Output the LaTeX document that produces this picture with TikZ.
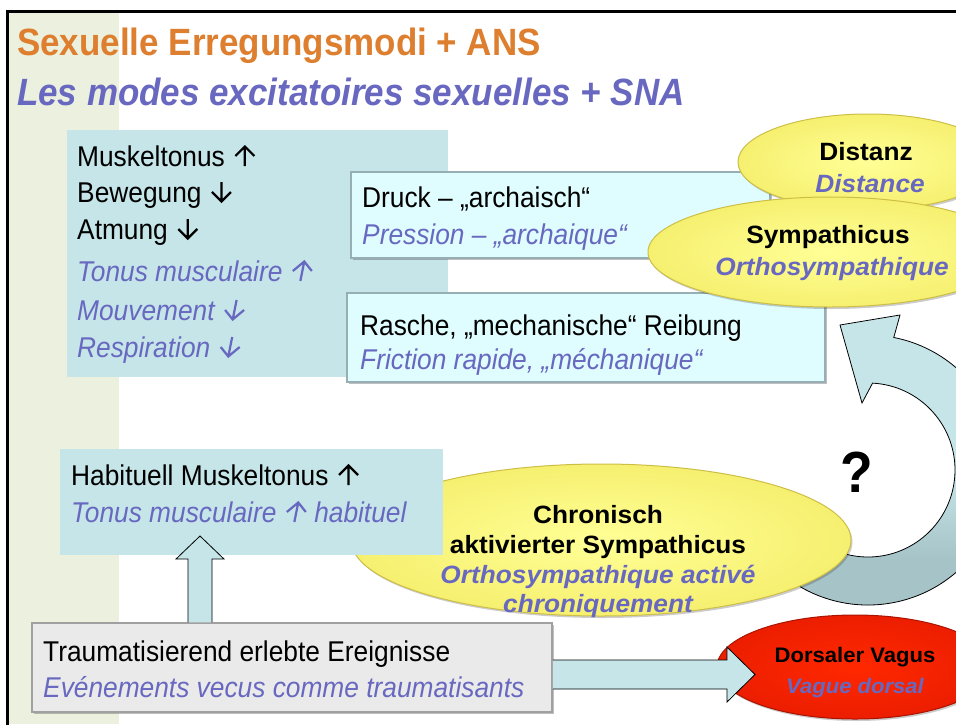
\documentclass[tikz,border=0pt]{standalone}
\usepackage{fontspec}
\setmainfont{Liberation Sans}[FakeStretch=0.92]
\newfontfamily\efont{Liberation Sans}[FakeStretch=1.05]
\newcommand\uparr[1][0]{\hspace{2pt}\tikz[baseline=0pt,x=1pt,y=1pt,xslant=#1]{\draw[draw=.,line width=2.2pt,line join=miter,line cap=butt] (0,0)--(0,19.5) (-9.5,10)--(0,19.5)--(9.5,10);}}
\newcommand\dnarr[1][0]{\hspace{2pt}\tikz[baseline=0pt,x=1pt,y=1pt,xslant=#1]{\draw[draw=.,line width=2.2pt,line join=miter,line cap=butt] (0,20)--(0,0.5) (-9.5,10)--(0,0.5)--(9.5,10);}}
\usetikzlibrary{shapes.geometric,shadows}
\definecolor{orangeT}{RGB}{221,127,47}
\definecolor{frblue}{RGB}{104,104,192}
\definecolor{tealbox}{RGB}{197,229,232}
\definecolor{tealdark}{RGB}{166,195,199}
\definecolor{cyanbox}{RGB}{223,252,254}
\definecolor{cyanedge}{RGB}{150,175,180}
\definecolor{graybox}{RGB}{234,234,234}
\definecolor{grayedge}{RGB}{160,160,160}
\definecolor{stripe}{RGB}{235,241,222}
\definecolor{yelin}{RGB}{255,255,150}
\definecolor{yelout}{RGB}{246,240,112}
\definecolor{yeledge}{RGB}{205,190,70}
\definecolor{redin}{RGB}{255,40,0}
\definecolor{redout}{RGB}{236,30,0}
\definecolor{rededge}{RGB}{170,20,0}
\begin{document}
\begin{tikzpicture}[x=1pt,y=-1pt,
  titletxt/.style={inner sep=0, anchor=base west, font=\fontsize{38}{44}\selectfont\bfseries},
  body/.style={inner sep=0, anchor=base west, font=\fontsize{28.6}{34}\selectfont},
  bodyfr/.style={inner sep=0, anchor=base west, font=\fontsize{28.6}{34}\selectfont\itshape, text=frblue},
  etxt/.style={inner sep=0, anchor=base, font=\efont\fontsize{25}{30}\selectfont\bfseries},
  efr/.style={inner sep=0, anchor=base, font=\efont\fontsize{25}{30}\selectfont\bfseries\itshape, text=frblue},
  flatbox/.style={rectangle, fill=tealbox, inner sep=0},
  cyanrect/.style={rectangle, fill=cyanbox, draw=cyanedge, line width=1.5pt, inner sep=0,
     drop shadow={shadow xshift=2pt, shadow yshift=-2pt, fill=black, opacity=0.25}},
  grayrect/.style={rectangle, fill=graybox, draw=grayedge, line width=1.5pt, inner sep=0,
     drop shadow={shadow xshift=2pt, shadow yshift=-2pt, fill=black, opacity=0.25}},
  yell/.style={ellipse, inner sep=0, inner color=yelin, outer color=yelout, draw=yeledge, line width=1pt,
     drop shadow={shadow xshift=1.5pt, shadow yshift=-2pt, fill=black, opacity=0.2}},
  redell/.style={ellipse, inner sep=0, inner color=redin, outer color=redout, draw=rededge, line width=1pt,
     drop shadow={shadow xshift=1.5pt, shadow yshift=-2pt, fill=black, opacity=0.2}},
  blockarrow/.style={fill=tealbox, draw=black, line width=0.8pt, line join=miter}
]
\useasboundingbox (0,0) rectangle (956,724);
\fill[white] (0,0) rectangle (956,724);
% stripe and frame
\fill[stripe] (8.5,12.5) rectangle (119,724);
\draw[line width=3pt] (7,730) -- (7,11) -- (962,11);

% titles
\node[titletxt, text=orangeT] (t1) at (17,55) {Sexuelle Erregungsmodi + ANS};
\node[titletxt, font=\fontsize{38}{44}\selectfont\bfseries\itshape, text=frblue] (t2) at (17,105) {Les modes excitatoires sexuelles + SNA};

% top-left box
\node[flatbox, minimum width=381pt, minimum height=247pt] (modes) at (257.5,253.5) {};
\node[body] (m1) at (77,166) {Muskeltonus \uparr};
\node[body] (m2) at (77,202) {Bewegung \dnarr};
\node[body] (m3) at (77,239) {Atmung \dnarr};
\node[bodyfr] (m4) at (77,281) {Tonus musculaire \uparr[0.2]};
\node[bodyfr] (m5) at (77,320) {Mouvement \dnarr[0.2]};
\node[bodyfr] (m6) at (77,357) {Respiration \dnarr[0.2]};

% Druck box
\node[cyanrect, minimum width=419pt, minimum height=86pt] (druck) at (560.5,215) {};
\node[body] (d1) at (362,207) {Druck – „archaisch“};
\node[bodyfr] (d2) at (362,244) {Pression – „archaique“};

% Rasche box
\node[cyanrect, minimum width=478pt, minimum height=89pt] (rasche) at (586,337.5) {};
\node[body] (r1) at (360,335) {Rasche, „mechanische“ Reibung};
\node[bodyfr] (r2) at (360,369) {Friction rapide, „méchanique“};

% Distanz ellipse
\node[yell, minimum width=260pt, minimum height=96pt] (distanz) at (868,162) {};
\node[etxt] (di1) at (866,160) {Distanz};
\node[efr] (di2) at (870,192) {Distance};

% Sympathicus ellipse
\node[yell, minimum width=364pt, minimum height=110pt] (sympa) at (830,252) {};
\node[etxt] (s1) at (828,243) {Sympathicus};
\node[efr] (s2) at (832,275) {Orthosympathique};

% curved arrow from chronic sympathicus back up to sympathicus
\coordinate (cc) at (868,470);
\def\curvearrow{([shift={(-125:135pt)}]cc) arc[start angle=-125, end angle=79, radius=135pt]
   -- (900,315) -- (840,325) -- (862,403)
   -- ([shift={(87:87pt)}]cc) arc[start angle=87, end angle=-125, radius=87pt] -- cycle}
\fill[tealbox] \curvearrow;
\begin{scope}
  \clip \curvearrow;
  \shade[top color=tealbox, bottom color=tealdark] (760,475) rectangle (1020,560);
  \fill[tealdark] (760,559) rectangle (1020,640);
\end{scope}
\draw[line width=0.8pt, line join=miter] \curvearrow;

\node[inner sep=0, anchor=base, font=\fontsize{58}{60}\selectfont\bfseries] (q) at (857,492) {?};

% Chronisch ellipse
\node[yell, minimum width=500pt, minimum height=152pt] (chron) at (601,540) {};
\node[etxt] (c1) at (598,523) {Chronisch};
\node[etxt] (c2) at (598,553) {aktivierter Sympathicus};
\node[efr] (c3) at (598,583) {Orthosympathique activé};
\node[efr] (c4) at (598,612) {chroniquement};

% Dorsaler Vagus ellipse
\node[redell, minimum width=276pt, minimum height=104pt] (vagus) at (855,667) {};
\node[etxt, font=\efont\fontsize{21}{26}\selectfont\bfseries] (v1) at (855,662) {Dorsaler Vagus};
\node[efr, font=\efont\fontsize{21}{26}\selectfont\bfseries\itshape] (v2) at (855,693) {Vague dorsal};

% Habituell box
\node[flatbox, minimum width=383pt, minimum height=106pt] (habit) at (251.5,502) {};
\node[body] (h1) at (71,485) {Habituell Muskeltonus \uparr};
\node[bodyfr] (h2) at (71,522) {Tonus musculaire \uparr[0.2]\ habituel};

% Trauma box
\node[grayrect, minimum width=520pt, minimum height=89pt] (trauma) at (292,667.5) {};
\node[body] (tr1) at (43,661) {Traumatisierend erlebte Ereignisse};
\node[bodyfr] (tr2) at (43,697) {Evénements vecus comme traumatisants};

% block arrows
\draw[blockarrow] (188,0 |- trauma.north) -- (188,559) -- (176,559) -- (200,536)
   -- (224,559) -- (212,559) -- (212,0 |- trauma.north);
\draw[blockarrow] (trauma.east |- 0,660) -- (727,660) -- (727,647) -- (755,674.5)
   -- (727,702) -- (727,689) -- (trauma.east |- 0,689);
\end{tikzpicture}
\end{document}
